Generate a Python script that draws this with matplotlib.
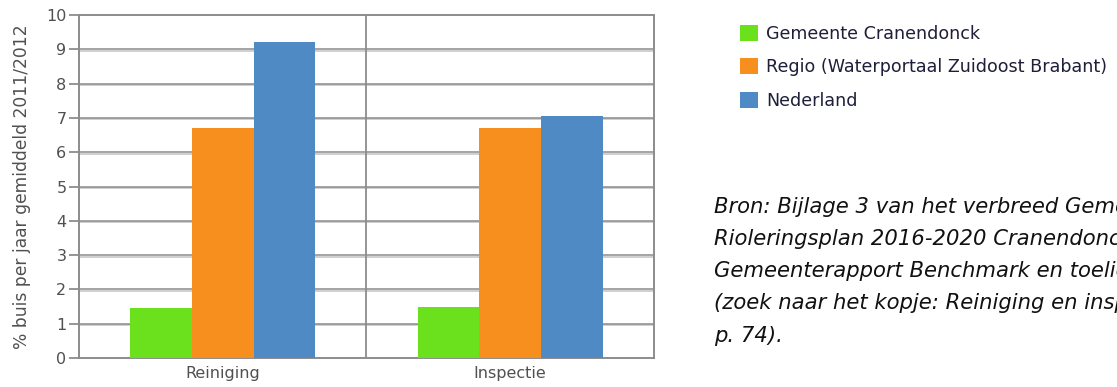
import matplotlib.pyplot as plt
import matplotlib.transforms as mtransforms
import numpy as np
from matplotlib.patches import Patch

plt.rcParams["font.family"] = ["DejaVu Sans"]

# --------------------------------
# Data
# --------------------------------
categories = ["Reiniging", "Inspectie"]
series_names = [
    "Gemeente Cranendonck",
    "Regio (Waterportaal Zuidoost Brabant)",
    "Nederland",
]
cranendonck = [1.47, 1.48]
regio = [6.7, 6.7]
nederland = [9.2, 7.07]
y_ticks = list(range(0, 11))

source_lines = [
    "Bron: Bijlage 3 van het verbreed Gemeentelijk",
    "Rioleringsplan 2016-2020 Cranendonck:",
    "Gemeenterapport Benchmark en toelichting",
    "(zoek naar het kopje: Reiniging en inspectie,",
    "p. 74).",
]

colors = ["#6be01c", "#f78f1e", "#4f8ac4"]
grid_col = "#8c8c8c"
text_col = "#505050"

# --------------------------------
# Figure / axes
# --------------------------------
fig = plt.figure(figsize=(11.17, 3.87), dpi=100)
ax = fig.add_axes([0.0707, 0.0749, 0.5148, 0.8863])

x = np.arange(len(categories))
width = 0.215
for i, vals in enumerate([cranendonck, regio, nederland]):
    ax.bar(x + (i - 1) * width, vals, width, color=colors[i], zorder=3,
           linewidth=0)

ax.set_xlim(-0.5, len(categories) - 0.5)
ax.set_ylim(0, 10)
ax.set_yticks(y_ticks)
ax.set_xticks(x)
ax.set_xticklabels(categories)

# horizontal grid: dark line with a lighter line just below it
shadow = ax.get_yaxis_transform() + mtransforms.ScaledTranslation(
    0, -1.5 / 100, fig.dpi_scale_trans)
for t in y_ticks[1:-1]:
    ax.plot([0, 1], [t, t], color="#cccccc", lw=1.3, zorder=1,
            transform=shadow)
    ax.axhline(t, color=grid_col, lw=1.1, zorder=2)

# divider between the two categories
ax.axvline(0.5, color=grid_col, lw=1.3, zorder=2)

for s in ax.spines.values():
    s.set_color(grid_col)
    s.set_linewidth(1.4)

ax.tick_params(axis="y", length=7, width=1.3, color=grid_col,
               labelsize=11.5, labelcolor=text_col, pad=2)
ax.tick_params(axis="x", length=0, labelsize=11.5, labelcolor=text_col,
               pad=6)
ax.set_ylabel("% buis per jaar gemiddeld 2011/2012", fontsize=12.3,
              color=text_col, labelpad=11)

# --------------------------------
# Legend
# --------------------------------
handles = [Patch(facecolor=c, edgecolor="none") for c in colors]
fig.legend(handles, series_names, loc="upper left",
           bbox_to_anchor=(0.648, 0.977), frameon=False,
           fontsize=12.6, handlelength=1.05, handleheight=1.05,
           handletextpad=0.45, labelspacing=0.88, labelcolor="#1f1f3a")

# --------------------------------
# Source note
# --------------------------------
fig.text(714 / 1117, 1 - 197 / 387, "\n".join(source_lines),
         fontsize=15.2, style="italic", family="DejaVu Sans",
         color="#111111", va="top", ha="left", linespacing=1.76)

fig.savefig("out.png", dpi=100)
